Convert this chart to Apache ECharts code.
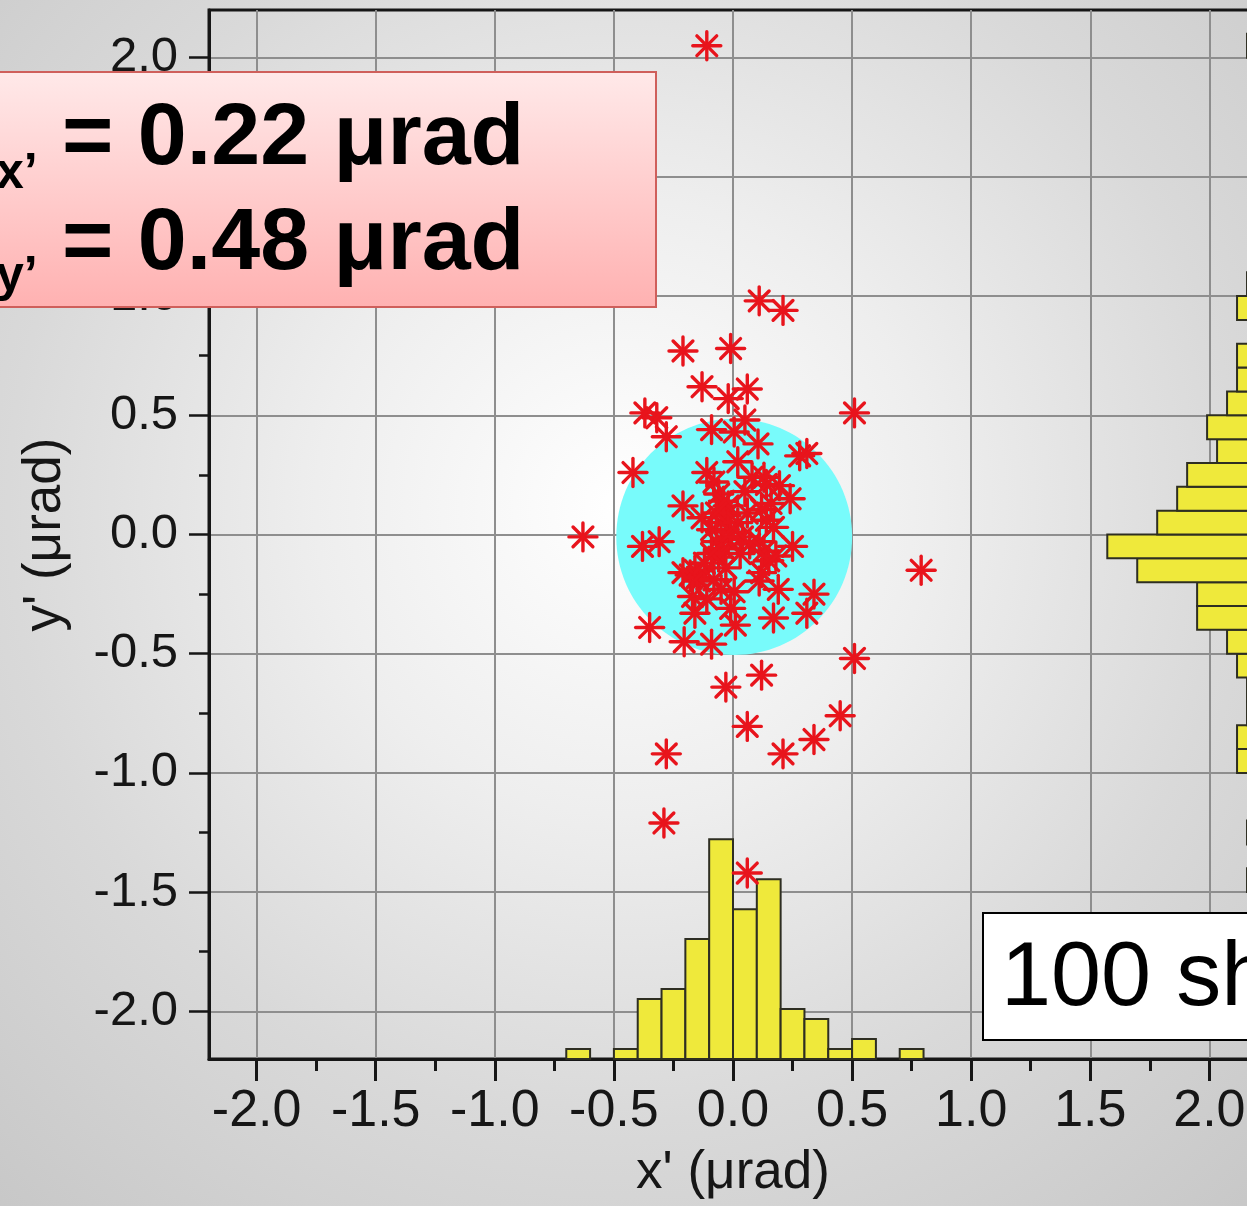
<!DOCTYPE html>
<html>
<head>
<meta charset="utf-8">
<script src="https://cdn.jsdelivr.net/npm/echarts@6/dist/echarts.min.js"></script>
<style>
  html, body { margin: 0; padding: 0; overflow: hidden; background: #d0d0d0; }
  #chart { width: 1247px; height: 1206px; }
</style>
</head>
<body>
<div id="chart"></div>
<script>
// Pointing jitter of 100 shots: x' and y' in microradians
const shotX = [
  -0.11, 0.11, 0.21, -0.21, -0.01, -0.13, -0.02, 0.06, -0.37, -0.32,
  0.51, -0.28, -0.09, 0.005, 0.05, 0.105, 0.31, 0.28, -0.42, 0.02,
  -0.11, 0.13, 0.195, 0.24, -0.21, -0.63, -0.38, -0.31, 0.25, 0.79,
  -0.21, -0.14, 0.11, 0.34, 0.31, 0.17, -0.35, -0.205, -0.09, 0.01,
  -0.16, 0.005, 0.51, -0.03, 0.12, 0.06, 0.45, 0.34, 0.21, -0.28,
  -0.29, 0.06, -0.39,
  -0.18, -0.16, -0.15, -0.12, -0.17, -0.13, -0.11,
  -0.08, -0.06, -0.09, -0.05, -0.03, -0.07, -0.04, -0.02, -0.01, -0.06,
  -0.03, -0.08, -0.05, -0.02, -0.04, -0.09, -0.01, -0.07,
  0.02, 0.04, 0.06, 0.03, 0.08, 0.05, 0.07,
  0.12, 0.14, 0.16, 0.11, 0.13, 0.15, 0.18, 0.17, 0.12, 0.19, 0.14
];
const shotY = [
  2.05, 0.98, 0.94, 0.77, 0.78, 0.62, 0.57, 0.61, 0.51, 0.49,
  0.51, 0.41, 0.44, 0.43, 0.48, 0.38, 0.34, 0.33, 0.26, 0.305,
  0.26, 0.24, 0.205, 0.15, 0.12, -0.01, -0.05, -0.03, -0.05, -0.15,
  -0.16, -0.195, -0.195, -0.25, -0.33, -0.35, -0.39, -0.45, -0.46, -0.38,
  -0.33, -0.24, -0.52, -0.64, -0.59, -0.805, -0.76, -0.86, -0.92, -0.92,
  -1.21, -1.42, 1.05,
  -0.17, -0.15, -0.18, -0.12, -0.26, 0.07, -0.27,
  0.22, 0.17, 0.02, 0.05, 0.08, -0.03, -0.06, -0.02, 0.01, -0.095,
  -0.14, -0.19, -0.23, 0.12, 0.14, -0.08, -0.31, 0.09,
  0.05, -0.01, 0.09, -0.08, 0.24, 0.18, -0.04,
  0.105, 0.06, 0.13, -0.03, -0.07, -0.11, -0.09, 0.03, -0.16, -0.23, 0.21
];

// Projected histograms (0.1 urad bins, lower bin edges and counts)
const binWidth = 0.1;
const xHistBins   = [-0.7, -0.5, -0.4, -0.3, -0.2, -0.1, 0.0, 0.1, 0.2, 0.3, 0.4, 0.5, 0.7];
const xHistCounts = [1, 1, 6, 7, 12, 22, 15, 18, 5, 4, 1, 2, 1];
const yHistBins   = [-1.5, -1.3, -1.0, -0.9, -0.8, -0.7, -0.6, -0.5, -0.4, -0.3, -0.2, -0.1,
                     0.0, 0.1, 0.2, 0.3, 0.4, 0.5, 0.6, 0.7, 0.9, 1.0, 2.0];
const yHistCounts = [1, 1, 2, 2, 1, 1, 2, 3, 6, 6, 12, 15, 10, 8, 7, 4, 5, 3, 2, 2, 2, 1, 1];

// Beam spot disc (centre and radius in urad)
const spotCenter = [0.005, -0.01];
const spotRadius = 0.495;

// Axis ticks
const majorTicks = [-2.0, -1.5, -1.0, -0.5, 0.0, 0.5, 1.0, 1.5, 2.0];
const minorTicks = [-1.75, -1.25, -0.75, -0.25, 0.25, 0.75, 1.25, 1.75];

// Annotation texts
const sigmaXText = '= 0.22 μrad';
const sigmaYText = '= 0.48 μrad';
const shotsText = '100 shots';

const FONT = "'Liberation Sans', Arial, Helvetica, sans-serif";
const INK = '#161616';

const chart = echarts.init(document.getElementById('chart'), null, { renderer: 'canvas' });

function mainAxis(isX) {
  return {
    type: 'value',
    position: isX ? 'bottom' : 'left',
    min: -2.2,
    max: 2.2,
    splitNumber: 9,
    axisLine: { show: true, onZero: false, lineStyle: { color: INK, width: 3 } },
    axisTick: {
      show: true, inside: false, length: isX ? 22 : 20,
      customValues: majorTicks,
      lineStyle: { color: INK, width: isX ? 3 : 2.5 }
    },
    axisLabel: {
      show: true, customValues: majorTicks,
      formatter: v => v.toFixed(1),
      fontSize: isX ? 52 : 49, fontFamily: FONT, color: INK,
      margin: isX ? 27 : 31
    },
    splitLine: { show: true, lineStyle: { color: '#8e8e8e', width: 2 } },
    minorTick: { show: false },
    name: isX ? "x' (μrad)" : "y' (μrad)",
    nameLocation: 'middle',
    nameGap: isX ? 88 : 137,
    nameRotate: isX ? 0 : 90,
    nameTextStyle: { fontSize: 53, fontFamily: FONT, color: INK }
  };
}

function minorAxis(isX) {
  return {
    type: 'value',
    position: isX ? 'bottom' : 'left',
    min: -2.2,
    max: 2.2,
    axisLine: { show: false, onZero: false },
    axisTick: {
      show: true, inside: false, length: isX ? 12 : 10,
      customValues: minorTicks,
      lineStyle: { color: INK, width: isX ? 3 : 2.5 }
    },
    axisLabel: { show: false },
    splitLine: { show: false }
  };
}

const barStyle = { fill: '#efe93b', stroke: '#2e2e22', lineWidth: 2 };

const option = {
  animation: false,
  backgroundColor: {
    type: 'radial', x: 0.5, y: 0.42, r: 0.85,
    colorStops: [
      { offset: 0, color: '#ffffff' },
      { offset: 0.3, color: '#eeeeee' },
      { offset: 0.6, color: '#d9d9d9' },
      { offset: 1, color: '#c3c3c3' }
    ]
  },
  grid: {
    left: 209, top: 10, width: 1048, height: 1049,
    show: true, borderColor: INK, borderWidth: 3,
    backgroundColor: 'transparent',
    containLabel: false,
    outerBoundsMode: 'none'
  },
  xAxis: [
    mainAxis(true),
    minorAxis(true),
    { type: 'value', min: 0, max: 105, inverse: true, show: false }
  ],
  yAxis: [
    mainAxis(false),
    minorAxis(false),
    { type: 'value', min: 0, max: 105, show: false }
  ],
  series: [
    {
      // beam spot disc
      type: 'custom', xAxisIndex: 0, yAxisIndex: 0, z: 1, silent: true,
      data: [[spotCenter[0], spotCenter[1], spotRadius]],
      renderItem(params, api) {
        const c = api.coord([api.value(0), api.value(1)]);
        const s = api.size([api.value(2), api.value(2)]);
        return {
          type: 'ellipse',
          shape: { cx: c[0], cy: c[1], rx: s[0], ry: s[1] },
          style: { fill: '#78fbfb' }
        };
      }
    },
    {
      // x' histogram along the bottom
      type: 'custom', xAxisIndex: 0, yAxisIndex: 2, z: 2, silent: true,
      data: xHistBins.map((b, i) => [b, xHistCounts[i]]),
      renderItem(params, api) {
        const x0 = api.value(0), n = api.value(1);
        const a = api.coord([x0, 0]);
        const b = api.coord([x0 + binWidth, n]);
        return {
          type: 'rect',
          shape: { x: a[0], y: b[1], width: b[0] - a[0], height: a[1] - b[1] },
          style: barStyle
        };
      }
    },
    {
      // y' histogram along the right edge
      type: 'custom', xAxisIndex: 2, yAxisIndex: 0, z: 2, silent: true,
      data: yHistBins.map((b, i) => [yHistCounts[i], b]),
      renderItem(params, api) {
        const n = api.value(0), y0 = api.value(1);
        const a = api.coord([0, y0]);
        const b = api.coord([n, y0 + binWidth]);
        return {
          type: 'rect',
          shape: { x: b[0], y: b[1], width: a[0] - b[0], height: a[1] - b[1] },
          style: barStyle
        };
      }
    },
    {
      // individual shots as asterisks
      type: 'custom', xAxisIndex: 0, yAxisIndex: 0, z: 3, silent: true,
      data: shotX.map((x, i) => [x, shotY[i]]),
      renderItem(params, api) {
        const c = api.coord([api.value(0), api.value(1)]);
        const r = 14, d = r * Math.SQRT1_2;
        const st = { stroke: '#e8141c', lineWidth: 3.4, lineCap: 'round' };
        const seg = (dx, dy) => ({
          type: 'line',
          shape: { x1: c[0] - dx, y1: c[1] - dy, x2: c[0] + dx, y2: c[1] + dy },
          style: st
        });
        return { type: 'group', children: [seg(r, 0), seg(0, r), seg(d, d), seg(d, -d)] };
      }
    }
  ],
  graphic: [
    {
      type: 'rect', z: 100,
      shape: { x: -10, y: 72, width: 666, height: 235 },
      style: {
        fill: {
          type: 'linear', x: 0, y: 0, x2: 0, y2: 1,
          colorStops: [{ offset: 0, color: '#ffe9e9' }, { offset: 1, color: '#ffb1b1' }]
        },
        stroke: '#cf5f5b', lineWidth: 2
      }
    },
    { type: 'text', z: 101, x: -64, y: 140,
      style: { text: 'σ', fontSize: 88, fontWeight: 'bold', fontFamily: FONT, fill: '#000', verticalAlign: 'middle' } },
    { type: 'text', z: 101, x: -4, y: 174,
      style: { text: 'x’', fontSize: 50, fontWeight: 'bold', fontFamily: FONT, fill: '#000', verticalAlign: 'middle' } },
    { type: 'text', z: 101, x: 62, y: 140,
      style: { text: sigmaXText, fontSize: 88, fontWeight: 'bold', fontFamily: FONT, fill: '#000', verticalAlign: 'middle' } },
    { type: 'text', z: 101, x: -64, y: 245,
      style: { text: 'σ', fontSize: 88, fontWeight: 'bold', fontFamily: FONT, fill: '#000', verticalAlign: 'middle' } },
    { type: 'text', z: 101, x: -4, y: 277,
      style: { text: 'y’', fontSize: 50, fontWeight: 'bold', fontFamily: FONT, fill: '#000', verticalAlign: 'middle' } },
    { type: 'text', z: 101, x: 62, y: 245,
      style: { text: sigmaYText, fontSize: 88, fontWeight: 'bold', fontFamily: FONT, fill: '#000', verticalAlign: 'middle' } },
    {
      type: 'rect', z: 100,
      shape: { x: 983, y: 913, width: 400, height: 127 },
      style: { fill: '#ffffff', stroke: '#000', lineWidth: 2 }
    },
    { type: 'text', z: 101, x: 1001, y: 980,
      style: { text: shotsText, fontSize: 90, fontFamily: FONT, fill: '#000', verticalAlign: 'middle' } }
  ]
};

chart.setOption(option);
</script>
</body>
</html>
